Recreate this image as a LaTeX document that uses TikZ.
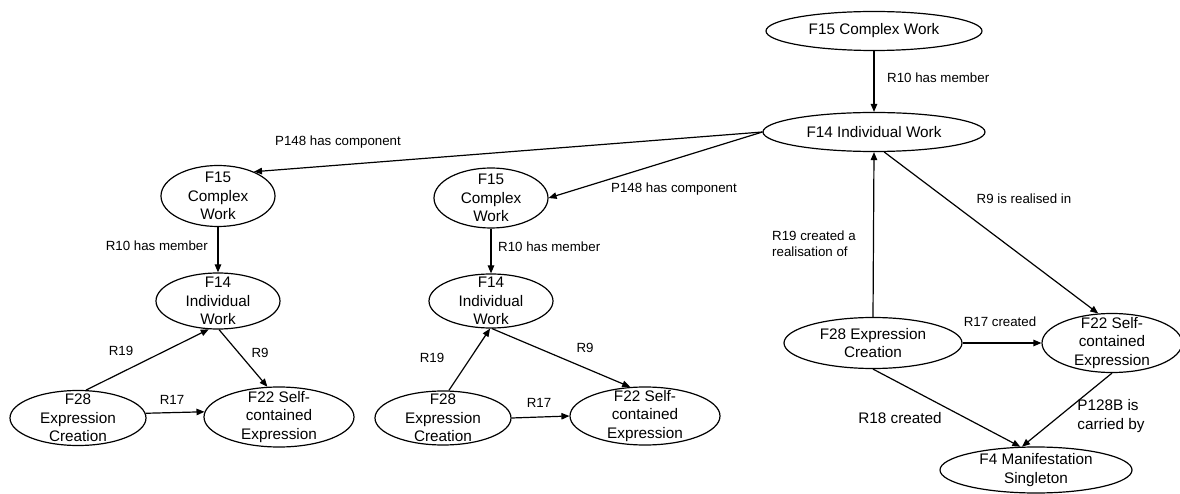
\documentclass[tikz,border=0pt]{standalone}
\usepackage{fontspec}
\setmainfont{Liberation Sans}
\usetikzlibrary{shapes.geometric,arrows.meta}
\begin{document}
\begin{tikzpicture}[x=1pt,y=-1pt,
  oval/.style args={#1/#2}{ellipse,draw,line width=1.2pt,minimum width=#1,minimum height=#2,inner sep=0pt},
  ntext/.style={align=center,inner sep=0pt,font=\fontsize{15.3}{18.5}\selectfont},
  conn/.style={line width=1.2pt,-{Triangle[length=8pt,width=6.5pt]}},
  elab/.style={inner sep=0pt,font=\fontsize{13.3}{16}\selectfont},
  blab/.style={inner sep=0pt,font=\fontsize{15.3}{18.5}\selectfont}
]
\useasboundingbox (0,0) rectangle (1180,494);
% ---------- left cluster ----------
\node[oval={114pt/61pt}, label={[ntext]center:{F15\\Complex\\Work}}] (l15) at (218,196) {};
\node[oval={124pt/56pt}, label={[ntext]center:{F14\\Individual\\Work}}] (l14) at (218,301) {};
\node[oval={136pt/55pt}, label={[ntext]center:{F28\\Expression\\Creation}}] (l28) at (78,418) {};
\node[oval={150pt/60pt}, label={[ntext]center:{F22 Self-\\contained\\Expression}}] (l22) at (279,417) {};
% ---------- middle cluster ----------
\node[oval={114pt/60pt}, label={[ntext]center:{F15\\Complex\\Work}}] (m15) at (491,198) {};
\node[oval={124pt/54pt}, label={[ntext]center:{F14\\Individual\\Work}}] (m14) at (491,301) {};
\node[oval={136pt/54pt}, label={[ntext]center:{F28\\Expression\\Creation}}] (m28) at (443,418) {};
\node[oval={150pt/58pt}, label={[ntext]center:{F22 Self-\\contained\\Expression}}] (m22) at (645,416) {};
% ---------- right cluster ----------
\node[oval={216pt/39pt}, label={[ntext]center:{F15 Complex Work}}] (r15) at (874,31) {};
\node[oval={222pt/39pt}, label={[ntext]center:{F14 Individual Work}}] (r14) at (874,132) {};
\node[oval={178pt/51pt}, label={[ntext]center:{F28 Expression\\Creation}}] (r28) at (873,343) {};
\node[oval={140pt/59pt}, label={[ntext]center:{F22 Self-\\contained\\Expression}}] (r22) at (1112,343) {};
\node[oval={192pt/46pt}, label={[ntext]center:{F4 Manifestation\\Singleton}}] (r4) at (1036,470) {};
% ---------- connectors ----------
\draw[conn] (l15.south) -- (l14.north);
\draw[conn] (l28.74.6) -- (l14.-108.4);
\draw[conn] (l14.-88) -- (l22.111);
\draw[conn] (l28.4.3) -- (l22.176.9);
\draw[conn] (m15.south) -- (m14.north);
\draw[conn] (m28.78) -- (m14.-92);
\draw[conn] (m14.-88) -- (m22.117);
\draw[conn] (m28.east) -- (m22.west);
\draw[conn] (r15.south) -- (r14.north);
\draw[conn] (r28.north) -- (r14.south);
\draw[conn] (r14.-63.4) -- (r22.115);
\draw[conn] (r28.east) -- (r22.west);
\draw[conn] (r28.south) -- (r4.124);
\draw[conn] (r22.south) -- (r4.121);
\draw[conn] (r14.west) -- (l15.34.4);
\draw[conn] (r14.west) -- (m15.east);
% ---------- labels ----------
\node[elab] (tP1) at (338,142) {P148 has component};
\node[elab] (tP2) at (674,189) {P148 has component};
\node[elab,anchor=east] (tl10) at (208,246) {R10 has member};
\node[elab] (tl19) at (121,351) {R19};
\node[elab] (tl9) at (260,353) {R9};
\node[elab] (tl17) at (172,400) {R17};
\node[elab,anchor=west] (tm10) at (498,247) {R10 has member};
\node[elab] (tm19) at (432,358) {R19};
\node[elab] (tm9) at (585,348) {R9};
\node[elab] (tm17) at (539,403) {R17};
\node[elab,anchor=west] (tr10) at (887,78) {R10 has member};
\node[elab] (tr9) at (1024,199) {R9 is realised in};
\node[elab,anchor=west,align=left] (tr19) at (772,244) {R19 created a\\realisation of};
\node[elab] (tr17) at (1000,322) {R17 created};
\node[blab] (tr18) at (900,418) {R18 created};
\node[blab,align=left] (tr128) at (1111,416) {P128B is\\carried by};
\end{tikzpicture}
\end{document}
